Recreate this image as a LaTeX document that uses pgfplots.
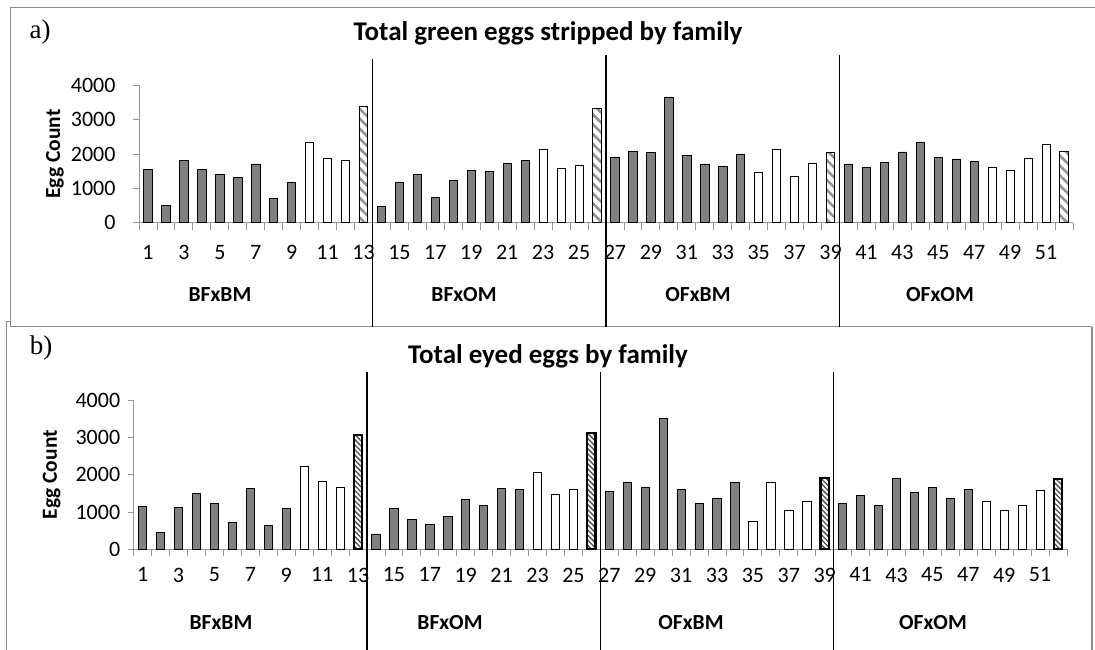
\documentclass[border=0pt]{standalone}
\usepackage{fontspec}
\setmainfont{Carlito}
\newfontfamily\seriffont{Liberation Serif}
\usepackage{pgfplots}
\pgfplotsset{compat=1.18}
\usetikzlibrary{patterns.meta}

\definecolor{darkbar}{RGB}{128,128,128}
\definecolor{axisgray}{RGB}{150,150,150}
\definecolor{boxgray}{RGB}{140,140,140}

\pgfplotsset{
  eggaxis/.style={
    anchor=south west, scale only axis,
    xmin=0.5, xmax=52.5, ymin=0, ymax=4000,
    ybar, bar width=8.3pt, bar shift=0pt,
    axis lines*=left,
    axis line style={draw=axisgray, line width=0.9pt},
    xtick={1,3,...,51},
    minor xtick={0.5,1.5,...,52.5},
    ytick={0,1000,...,4000},
    tick align=outside,
    major x tick style={draw=none},
    minor x tick style={draw=axisgray, line width=0.9pt},
    major y tick style={draw=axisgray, line width=0.9pt},
    minor tick length=7pt, major tick length=6pt,
    /pgf/number format/assume math mode=true,
    /pgf/number format/1000 sep={},
    tick label style={font=\fontsize{22}{26}\selectfont},
    clip=false,
  },
  darkbars/.style={draw=black, line width=0.8pt, fill=darkbar},
  whitebars/.style={draw=black, line width=0.8pt, fill=white},
}

\begin{document}
\begin{tikzpicture}
\useasboundingbox (0,0) rectangle (1095pt,650pt);

% panel frames
\draw[boxgray, line width=1pt] (10pt,323.3pt) -- (10pt,642.7pt) -- (1100pt,642.7pt);
\draw[boxgray, line width=1pt] (10pt,323.3pt) -- (1092pt,323.3pt);
\draw[boxgray, line width=1.2pt] (6.7pt,0pt) -- (6.7pt,328.3pt) -- (10pt,328.3pt);
\draw[boxgray, line width=2pt] (1092pt,0pt) -- (1092pt,322.7pt);

% ---------------- a) green eggs ----------------
\begin{axis}[eggaxis, at={(139pt,427.3pt)}, width=934pt, height=137.4pt,
  yticklabel style={xshift=-14pt},
  xticklabel style={anchor=north, yshift=-13pt}]
\addplot[darkbars] coordinates {
 (1,1540) (2,510) (3,1805) (4,1545) (5,1400) (6,1320) (7,1710) (8,720) (9,1165)
 (14,460) (15,1165) (16,1410) (17,730) (18,1245) (19,1515) (20,1495) (21,1730) (22,1805)
 (27,1915) (28,2085) (29,2040) (30,3660) (31,1960) (32,1710) (33,1640) (34,2000)
 (40,1710) (41,1620) (42,1745) (43,2060) (44,2330) (45,1905) (46,1855) (47,1795)};
\addplot[whitebars] coordinates {
 (10,2340) (11,1865) (12,1805) (23,2135) (24,1590) (25,1670)
 (35,1455) (36,2135) (37,1360) (38,1740) (48,1615) (49,1515) (50,1885) (51,2280)};
\addplot[draw=black, line width=0.8pt,
  pattern={Lines[angle=-45,distance=7pt,line width=2.6pt]}, pattern color=gray!85]
 coordinates {(13,3375) (26,3330) (39,2040) (52,2085)};
\draw[black, line width=1.1pt] (axis cs:13.5,-3050) -- (axis cs:13.5,4766);
\draw[black, line width=1.1pt] (axis cs:26.5,-3050) -- (axis cs:26.5,4880);
\draw[black, line width=1.1pt] (axis cs:39.5,-3050) -- (axis cs:39.5,4880);
\end{axis}

% ---------------- b) eyed eggs ----------------
\begin{axis}[eggaxis, at={(133.7pt,100.7pt)}, width=933.3pt, height=149.3pt,
  yticklabel style={xshift=-4pt},
  xticklabel style={anchor=north, yshift=-9pt}]
\addplot[darkbars] coordinates {
 (1,1140) (2,455) (3,1115) (4,1490) (5,1230) (6,715) (7,1635) (8,650) (9,1090)
 (14,390) (15,1090) (16,805) (17,660) (18,885) (19,1350) (20,1180) (21,1635) (22,1605)
 (27,1555) (28,1805) (29,1670) (30,3510) (31,1605) (32,1230) (33,1375) (34,1805)
 (40,1230) (41,1435) (42,1180) (43,1895) (44,1520) (45,1660) (46,1375) (47,1605)};
\addplot[whitebars] coordinates {
 (10,2215) (11,1810) (12,1670) (23,2060) (24,1475) (25,1605)
 (35,740) (36,1805) (37,1035) (38,1285) (48,1285) (49,1035) (50,1180) (51,1580)};
\addplot[draw=black, line width=2.2pt,
  pattern={Lines[angle=-45,distance=3.6pt,line width=1.3pt]}, pattern color=black!70]
 coordinates {(13,3070) (26,3115) (39,1920) (52,1885)};
\draw[black, line width=1.3pt] (axis cs:13.5,-2750) -- (axis cs:13.5,4758);
\draw[black, line width=1.3pt] (axis cs:26.5,-2750) -- (axis cs:26.5,4758);
\draw[black, line width=1.3pt] (axis cs:39.5,-2750) -- (axis cs:39.5,4758);
\end{axis}

% titles, panel letters, y labels, group labels
\node[font=\fontsize{27}{31}\selectfont\bfseries] at (548pt,617pt) {Total green eggs stripped by family};
\node[font=\fontsize{27}{31}\selectfont\bfseries] at (548pt,293.3pt) {Total eyed eggs by family};
\node[font=\seriffont\fontsize{27}{31}\selectfont] at (40pt,618pt) {a)};
\node[font=\seriffont\fontsize{27}{31}\selectfont] at (41pt,302pt) {b)};
\node[rotate=90, font=\fontsize{21.5}{25}\selectfont\bfseries] at (55pt,496pt) {Egg Count};
\node[rotate=90, font=\fontsize{21.5}{25}\selectfont\bfseries] at (51.7pt,175.3pt) {Egg Count};
\foreach \lab/\x in {BFxBM/220, BFxOM/464, OFxBM/698, OFxOM/940}
  \node[font=\fontsize{21.5}{25}\selectfont\bfseries] at (\x pt,355pt) {\lab};
\foreach \lab/\x in {BFxBM/221, BFxOM/450, OFxBM/691, OFxOM/933}
  \node[font=\fontsize{21.5}{25}\selectfont\bfseries] at (\x pt,27pt) {\lab};
\end{tikzpicture}
\end{document}
